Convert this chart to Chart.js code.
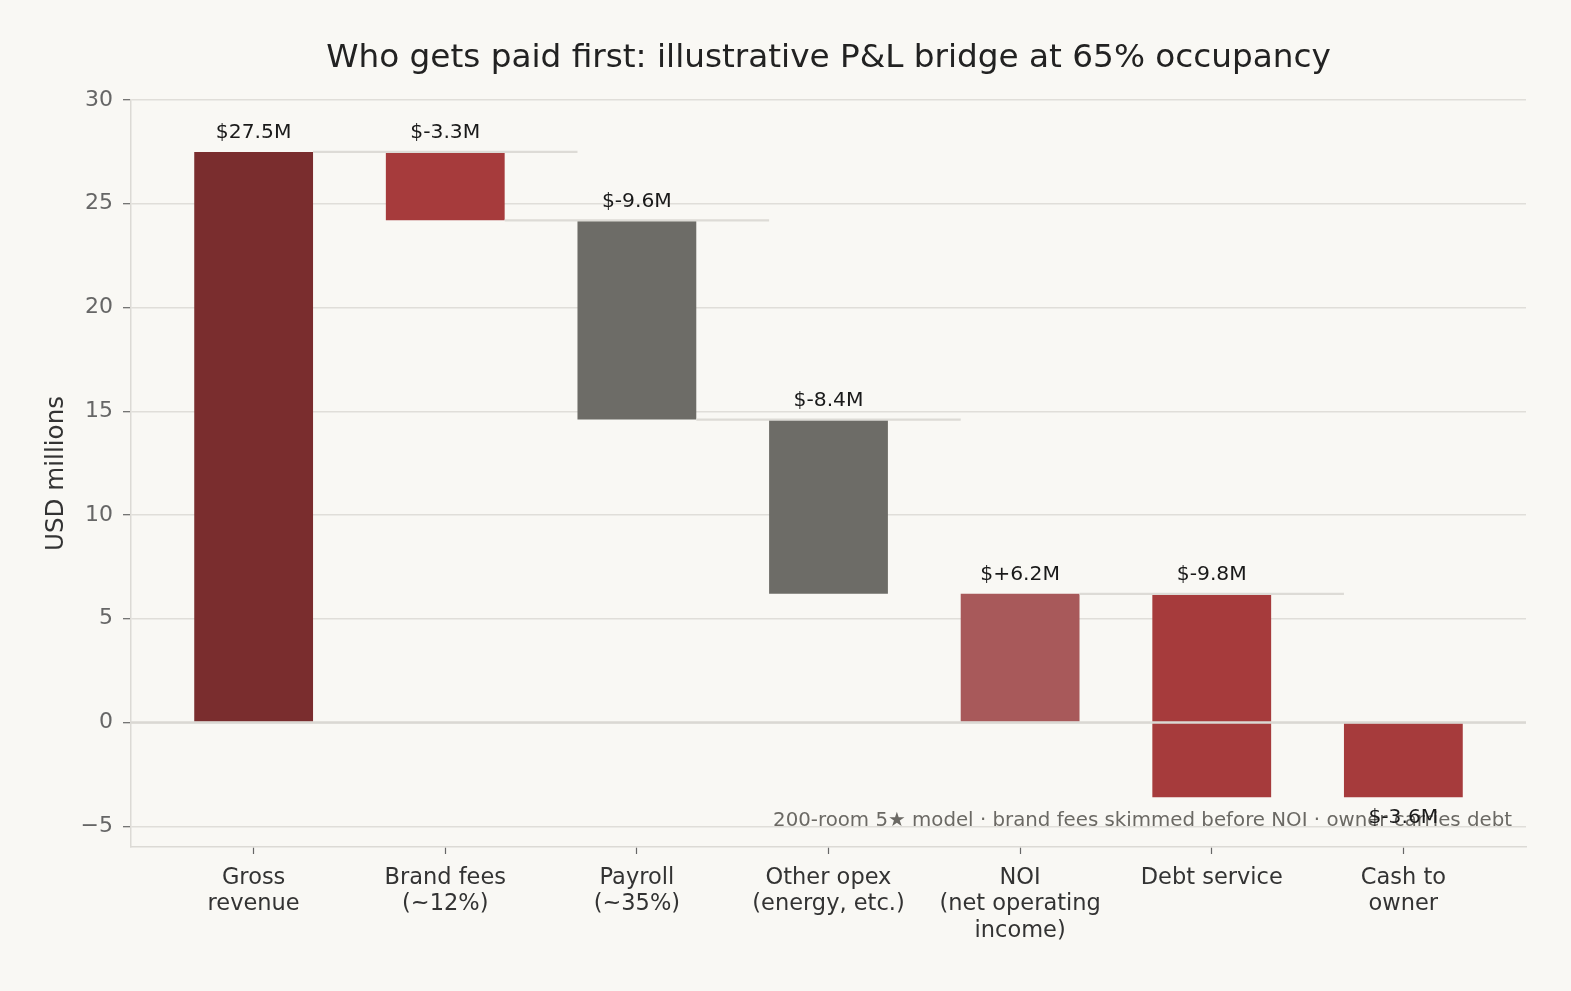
<!DOCTYPE html>
<html>
<head>
<meta charset="utf-8">
<script src="https://cdn.jsdelivr.net/npm/chart.js@4.4.1/dist/chart.umd.min.js"></script>
<style>
  html, body { margin: 0; padding: 0; background: #f9f8f4; }
  #wrap { width: 1571px; height: 991px; position: relative; }
</style>
</head>
<body>
<div id="wrap"><canvas id="bridge"></canvas></div>
<script>
// categories and values
const categories = [
    ['Gross', 'revenue'], ['Brand fees', '(~12%)'], ['Payroll', '(~35%)'],
    ['Other opex', '(energy, etc.)'], ['NOI', '(net operating', 'income)'],
    ['Debt service'], ['Cash to', 'owner']
];
const deltas = [27.5, -3.3, -9.6, -8.4, 6.2, -9.8, -3.6];
const kinds = ['total', 'step', 'step', 'step', 'total', 'step', 'total'];
const valueLabels = ['$27.5M', '$-3.3M', '$-9.6M', '$-8.4M', '$+6.2M', '$-9.8M', '$-3.6M'];
const barColors = ['#7a2d2e', '#a63b3c', '#6d6c67', '#6d6c67', '#a8595a', '#a63b3c', '#a63b3c'];
const connectorFrom = [0, 1, 2, 4];
const yTicks = [-5, 0, 5, 10, 15, 20, 25, 30];
const titleText = 'Who gets paid first: illustrative P&L bridge at 65% occupancy';
const noteText = '200-room 5\u2605 model \u00b7 brand fees skimmed before NOI \u00b7 owner carries debt';

const BAR_W = 0.62;
const FONT = '"DejaVu Sans", Verdana, sans-serif';

// floating bars: [start, end] from the running level
let running = 0;
const floats = deltas.map((d, i) => {
    if (kinds[i] === 'total') { running = d; return [0, d]; }
    const from = running;
    running = +(running + d).toFixed(2);
    return [from, running];
});
const levels = floats.map(f => f[1]);

const connectors = connectorFrom.map(i => ({
    type: 'line',
    data: [{ x: i + BAR_W / 2, y: levels[i] }, { x: i + 1.69, y: levels[i] }],
    borderColor: '#dddbd6', borderWidth: 2.2, pointRadius: 0, fill: false, order: 0
}));

const overlay = {
    id: 'overlay',
    afterDatasetsDraw(chart) {
        const { ctx, chartArea: a, scales } = chart;
        const y0 = scales.y.getPixelForValue(0);
        ctx.save();
        ctx.strokeStyle = '#dad8d3';
        ctx.lineWidth = 2.4;
        ctx.beginPath(); ctx.moveTo(a.left, y0); ctx.lineTo(a.right, y0); ctx.stroke();

        // title centred on the plot area
        ctx.fillStyle = '#222';
        ctx.font = '32.7px ' + FONT;
        ctx.textAlign = 'center'; ctx.textBaseline = 'middle';
        ctx.fillText(titleText, (a.left + a.right) / 2, 59);

        // footnote
        ctx.fillStyle = '#6b6964';
        ctx.font = '19.8px ' + FONT;
        ctx.textAlign = 'right';
        ctx.fillText(noteText, a.right - 14, a.bottom - 26);

        // value labels
        ctx.fillStyle = '#1a1a1a';
        ctx.font = '20.3px ' + FONT;
        ctx.textAlign = 'center';
        const meta = chart.getDatasetMeta(0);
        meta.data.forEach((bar, i) => {
            const f = floats[i];
            const top = scales.y.getPixelForValue(Math.max(f[0], f[1]));
            const bot = scales.y.getPixelForValue(Math.min(f[0], f[1]));
            const below = kinds[i] === 'total' && deltas[i] < 0;
            ctx.fillText(valueLabels[i], bar.x, below ? bot + 21 : top - 19);
        });
        ctx.restore();
    }
};

new Chart(document.getElementById('bridge'), {
    type: 'bar',
    data: {
        datasets: [{
            data: floats.map((f, i) => ({ x: i, y: f })),
            backgroundColor: barColors,
            borderWidth: 0,
            categoryPercentage: BAR_W,
            barPercentage: 1,
            order: 1
        }, ...connectors]
    },
    options: {
        responsive: true,
        maintainAspectRatio: false,
        animation: false,
        layout: { padding: { top: 100, right: 45, left: 42, bottom: 0 } },
        plugins: { legend: { display: false }, tooltip: { enabled: false }, title: { display: false } },
        scales: {
            x: {
                type: 'linear',
                offset: false,
                min: -0.64, max: 6.64,
                afterBuildTicks: s => { s.ticks = categories.map((c, i) => ({ value: i })); },
                afterFit: s => { s.height = 144; },
                ticks: {
                    callback: v => categories[v],
                    color: '#333',
                    font: { family: FONT, size: 22.5, lineHeight: 1.17 },
                    padding: 11, maxRotation: 0, autoSkip: false
                },
                grid: { offset: false, drawOnChartArea: false, drawTicks: true, tickLength: 7, tickColor: '#666', tickWidth: 1.2 },
                border: { color: '#dcdad5', width: 1.5 }
            },
            y: {
                min: -6, max: 30,
                afterBuildTicks: s => { s.ticks = yTicks.map(v => ({ value: v })); },
                afterFit: s => { s.width = 89; },
                ticks: {
                    callback: v => v < 0 ? '\u2212' + Math.abs(v) : String(v),
                    color: '#666',
                    font: { family: FONT, size: 22 },
                    padding: 10
                },
                grid: { color: '#e0ded9', lineWidth: 1.4, tickLength: 8, tickColor: '#666', tickWidth: 1.2 },
                border: { color: '#dcdad5', width: 1.5 },
                title: {
                    display: true, text: 'USD millions', color: '#333',
                    font: { family: FONT, size: 24.6 }, padding: 0
                }
            }
        }
    },
    plugins: [overlay]
});
</script>
</body>
</html>
